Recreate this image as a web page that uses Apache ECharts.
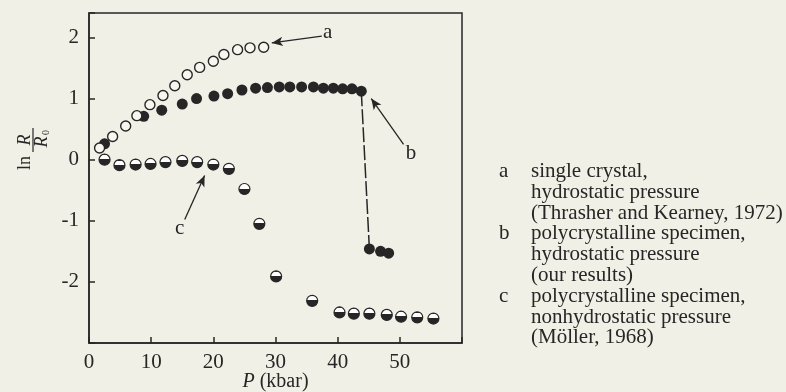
<!DOCTYPE html>
<html>
<head>
<meta charset="utf-8">
<script src="https://cdn.jsdelivr.net/npm/echarts@6/dist/echarts.min.js"></script>
<style>
  html, body { margin: 0; padding: 0; background: #f1f0e6; }
  #chart { width: 786px; height: 392px; }
</style>
</head>
<body>
<div id="chart"></div>
<script>
// a: single crystal, hydrostatic (open circles)
var pA = [1.7, 3.8, 5.9, 7.7, 9.8, 11.9, 13.8, 15.8, 17.8, 20.0, 21.7, 23.9, 25.9, 28.1];
var lnA = [0.19, 0.38, 0.55, 0.72, 0.90, 1.05, 1.21, 1.39, 1.51, 1.61, 1.72, 1.80, 1.83, 1.84];
// b: polycrystalline, hydrostatic (filled)
var pB = [2.5, 8.8, 11.7, 15.0, 17.3, 20.1, 22.3, 24.6, 26.8, 28.7, 30.6, 32.3, 34.2, 36.1, 37.7, 39.3, 40.8, 42.3, 43.8, 45.1, 46.9, 48.2];
var lnB = [0.26, 0.71, 0.81, 0.91, 1.00, 1.04, 1.08, 1.14, 1.17, 1.18, 1.19, 1.19, 1.19, 1.19, 1.17, 1.17, 1.16, 1.16, 1.12, -1.46, -1.50, -1.53];
// c: polycrystalline, nonhydrostatic (half filled)
var pC = [2.5, 4.9, 7.5, 9.9, 12.3, 15.0, 17.4, 20.0, 22.5, 25.0, 27.4, 30.1, 35.9, 40.3, 42.6, 45.1, 47.9, 50.2, 52.8, 55.4];
var lnC = [0.0, -0.09, -0.08, -0.07, -0.04, -0.02, -0.04, -0.08, -0.15, -0.48, -1.05, -1.91, -2.31, -2.50, -2.52, -2.52, -2.54, -2.57, -2.58, -2.60];

var xTicks = [0, 10, 20, 30, 40, 50];
var yTicks = [-2, -1, 0, 1, 2];

var legendLines = [
    ['a', 'single crystal,'],
    ['', 'hydrostatic pressure'],
    ['', '(Thrasher and Kearney, 1972)'],
    ['b', 'polycrystalline specimen,'],
    ['', 'hydrostatic pressure'],
    ['', '(our results)'],
    ['c', 'polycrystalline specimen,'],
    ['', 'nonhydrostatic pressure'],
    ['', '(M\u00f6ller, 1968)']
];

var ink = '#262626';
var bg = '#f1f0e6';
var serif = 'Liberation Serif';

function pairs(xs, ys) {
    return xs.map(function (x, i) { return [x, ys[i]]; });
}

var jump = [[pB[18], lnB[18]], [pB[19], lnB[19]]];

var halfFill = new echarts.graphic.LinearGradient(0, 0, 0, 1, [
    { offset: 0, color: ink },
    { offset: 0.12, color: ink },
    { offset: 0.12, color: '#ffffff' },
    { offset: 0.46, color: '#ffffff' },
    { offset: 0.46, color: ink },
    { offset: 1, color: ink }
]);

var myChart = echarts.init(document.getElementById('chart'));

var legendGraphics = [];
legendLines.forEach(function (row, i) {
    var y = 173 + i * 20.8;
    if (row[0]) {
        legendGraphics.push({
            type: 'text', left: 499, top: y - 12,
            style: { text: row[0], font: '21px "' + serif + '"', fill: ink }
        });
    }
    legendGraphics.push({
        type: 'text', left: 531, top: y - 12,
        style: { text: row[1], font: '21px "' + serif + '"', fill: ink }
    });
});

var option = {
    backgroundColor: bg,
    animation: false,
    grid: {
        left: 89, right: 324, top: 13, bottom: 49,
        containLabel: false, outerBoundsMode: 'none',
        show: true, borderColor: ink, borderWidth: 1.5, backgroundColor: 'transparent'
    },
    xAxis: {
        type: 'value', min: 0, max: 60, interval: 10,
        name: '{i|P} (kbar)', nameLocation: 'middle', nameGap: 29, nameMoveOverlap: false,
        nameTextStyle: {
            fontFamily: serif, fontSize: 20, color: ink,
            rich: { i: { fontFamily: serif, fontSize: 20, fontStyle: 'italic', color: ink } }
        },
        axisLine: { onZero: false, lineStyle: { color: ink, width: 1.5 } },
        axisTick: { inside: true, length: 6, lineStyle: { color: ink, width: 1.5 } },
        axisLabel: {
            margin: 9, fontFamily: serif, fontSize: 21, color: ink,
            formatter: function (v) { return xTicks.indexOf(v) >= 0 ? String(v) : ''; }
        },
        splitLine: { show: false }
    },
    yAxis: {
        type: 'value', min: -3, max: 2.4, interval: 1,
        axisLine: { onZero: false, lineStyle: { color: ink, width: 1.5 } },
        axisTick: { inside: true, length: 6, lineStyle: { color: ink, width: 1.5 } },
        axisLabel: {
            margin: 10, fontFamily: serif, fontSize: 21, color: ink,
            formatter: function (v) { return yTicks.indexOf(v) >= 0 ? String(v) : ''; }
        },
        splitLine: { show: false }
    },
    series: [
        {
            name: 'jump', type: 'line', data: jump, symbol: 'none', z: 1,
            lineStyle: { color: ink, width: 1.5, type: [15, 3] }
        },
        {
            name: 'a', type: 'scatter', data: pairs(pA, lnA), symbol: 'circle', symbolSize: 10, z: 3,
            itemStyle: { color: '#f7f6ef', borderColor: ink, borderWidth: 1.4, opacity: 1 },
            markLine: {
                silent: true, symbol: ['none', 'arrow'], symbolSize: [7, 11],
                lineStyle: { color: ink, width: 1.3, type: 'solid' }, label: { show: false },
                data: [[{ coord: [37.45, 2.02] }, { coord: [29.4, 1.91] }]]
            },
            markPoint: {
                symbol: 'rect', symbolSize: 1, itemStyle: { color: 'transparent' },
                label: { show: true, position: 'inside', formatter: 'a', fontFamily: serif, fontSize: 21, color: ink },
                data: [{ coord: [38.4, 2.08] }]
            }
        },
        {
            name: 'b', type: 'scatter', data: pairs(pB, lnB), symbol: 'circle', symbolSize: 11, z: 2,
            itemStyle: { color: ink, opacity: 1 },
            markLine: {
                silent: true, symbol: ['none', 'arrow'], symbolSize: [7, 11],
                lineStyle: { color: ink, width: 1.3, type: 'solid' }, label: { show: false },
                data: [[{ coord: [50.6, 0.25] }, { coord: [45.4, 1.0] }]]
            },
            markPoint: {
                symbol: 'rect', symbolSize: 1, itemStyle: { color: 'transparent' },
                label: { show: true, position: 'inside', formatter: 'b', fontFamily: serif, fontSize: 21, color: ink },
                data: [{ coord: [51.8, 0.1] }]
            }
        },
        {
            name: 'c', type: 'scatter', data: pairs(pC, lnC), symbol: 'circle', symbolSize: 11, z: 2,
            itemStyle: { color: halfFill, borderColor: ink, borderWidth: 1.2, opacity: 1 },
            markLine: {
                silent: true, symbol: ['none', 'arrow'], symbolSize: [7, 11],
                lineStyle: { color: ink, width: 1.3, type: 'solid' }, label: { show: false },
                data: [[{ coord: [15.4, -0.98] }, { coord: [18.6, -0.26] }]]
            },
            markPoint: {
                symbol: 'rect', symbolSize: 1, itemStyle: { color: 'transparent' },
                label: { show: true, position: 'inside', formatter: 'c', fontFamily: serif, fontSize: 21, color: ink },
                data: [{ coord: [14.6, -1.12] }]
            }
        }
    ],
    graphic: [
        {
            type: 'group', x: 33, y: 146, rotation: Math.PI / 2,
            children: [
                { type: 'text', x: -24, y: -8, style: { text: 'ln', font: '18px "' + serif + '"', fill: ink, align: 'left', verticalAlign: 'middle' } },
                { type: 'text', x: 6, y: -8, style: { text: 'R', font: 'italic 18px "' + serif + '"', fill: ink, align: 'center', verticalAlign: 'middle' } },
                { type: 'line', shape: { x1: -6, y1: 0, x2: 18, y2: 0 }, style: { stroke: ink, lineWidth: 1.2 } },
                { type: 'text', x: 4, y: 9, style: { text: 'R', font: 'italic 18px "' + serif + '"', fill: ink, align: 'center', verticalAlign: 'middle' } },
                { type: 'text', x: 11, y: 13, style: { text: '0', font: '10px "' + serif + '"', fill: ink, align: 'left', verticalAlign: 'middle' } }
            ]
        }
    ].concat(legendGraphics)
};

myChart.setOption(option);
</script>
</body>
</html>
